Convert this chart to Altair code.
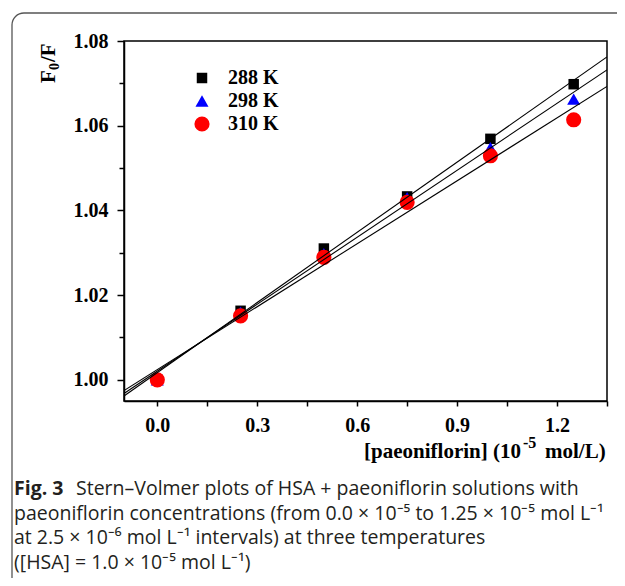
import altair as alt
import pandas as pd

# ---- data ----
conc = [0.0, 0.25, 0.5, 0.75, 1.0, 1.25]
f288 = [1.000, 1.0163, 1.0310, 1.0433, 1.0569, 1.0698]
f298 = [1.000, 1.0160, 1.0298, 1.0430, 1.0548, 1.0663]
f310 = [1.000, 1.0151, 1.0289, 1.0419, 1.0529, 1.0614]
temps = ["288 K", "298 K", "310 K"]
colors = ["black", "blue", "red"]
shapes = ["square", "triangle-up", "circle"]
sizes = [110, 230, 125]

x_ticks = [-0.15, 0.0, 0.15, 0.3, 0.45, 0.6, 0.75, 0.9, 1.05, 1.2, 1.35]
y_ticks = [1.00, 1.01, 1.02, 1.03, 1.04, 1.05, 1.06, 1.07, 1.08]

caption_first = "Stern\u2013Volmer plots of HSA + paeoniflorin solutions with"
caption_lines = [
    "paeoniflorin concentrations (from 0.0 \u00d7 10\u207b\u2075 to 1.25 \u00d7 10\u207b\u2075 mol L\u207b\u00b9",
    "at 2.5 \u00d7 10\u207b\u2076 mol L\u207b\u00b9 intervals) at three temperatures",
    "([HSA] = 1.0 \u00d7 10\u207b\u2075 mol L\u207b\u00b9)",
]

rows = []
for t, vals in zip(temps, [f288, f298, f310]):
    for c, v in zip(conc, vals):
        rows.append({"conc": c, "F": v, "T": t})
df = pd.DataFrame(rows)

# layout (plot area in page pixels: x 124..607, y 41..401)
W, H = 483, 360
PL, PT = 116, 33
TOTAL_W, TOTAL_H = 609, 570
ox, oy = 124, 41  # page coords of plot origin

SERIF = "Liberation Serif"
SANS = "Open Sans"

xscale = alt.Scale(domain=[-0.1, 1.35], nice=False, zero=False)
yscale = alt.Scale(domain=[0.995, 1.08], nice=False, zero=False)

x_major_test = "abs(round(datum.value/0.3)*0.3 - datum.value) < 1e-6"
y_major_test = "abs(round(datum.value/0.02)*0.02 - datum.value) < 1e-6"

xaxis = alt.Axis(
    values=x_ticks, title=None,
    labelExpr=x_major_test + " ? format(datum.value, '.1f') : ''",
    labelFont=SERIF, labelFontWeight="bold", labelFontSize=20, labelColor="black",
    labelPadding=9, tickSize=5, tickWidth=1.5, tickColor="black",
    domainColor="black", domainWidth=1.5, grid=False, labelFlush=False, labelOverlap=False,
)
yaxis = alt.Axis(
    values=y_ticks, title=None,
    labelExpr=y_major_test + " ? format(datum.value, '.2f') : ''",
    labelFont=SERIF, labelFontWeight="bold", labelFontSize=20, labelColor="black",
    labelPadding=9,
    tickSize={"condition": {"test": y_major_test, "value": 7}, "value": 5},
    tickWidth=1.5, tickColor="black",
    domainColor="black", domainWidth=1.5, grid=False, labelFlush=False, labelOverlap=False,
)

x = alt.X("conc:Q", scale=xscale, axis=xaxis)
y = alt.Y("F:Q", scale=yscale, axis=yaxis)

legend = alt.Legend(
    title=None, orient="none", legendX=68, legendY=27,
    labelFont=SERIF, labelFontWeight="bold", labelFontSize=20,
    labelColor="black", rowPadding=3, labelOffset=16, symbolStrokeWidth=0)

points = alt.Chart(df).mark_point(filled=True, opacity=1).encode(
    x=x, y=y,
    color=alt.Color("T:N", scale=alt.Scale(domain=temps, range=colors), legend=legend),
    shape=alt.Shape("T:N", scale=alt.Scale(domain=temps, range=shapes), legend=legend),
    size=alt.Size("T:N", scale=alt.Scale(domain=temps, range=sizes), legend=legend),
    order=alt.Order("T:N"),
)

lines = alt.Chart(df).transform_regression(
    "conc", "F", groupby=["T"], extent=[-0.1, 1.35]
).mark_line(color="black", strokeWidth=1.1, clip=True).encode(
    x=x, y=y, detail="T:N"
)

one = pd.DataFrame({"a": [0]})


def txt(text, px, py, size=20, font=SERIF, weight="bold", align="left",
        baseline="alphabetic", angle=0, color="black"):
    kw = dict(text=text, font=font, fontSize=size, fontWeight=weight,
              align=align, baseline=baseline, color=color)
    if angle:
        kw["angle"] = angle
    return alt.Chart(one).mark_text(**kw).encode(
        x=alt.value(px - ox), y=alt.value(py - oy))


CAP = 19.5
texts = [
    # x title
    txt("[paeoniflorin] (10", 521, 458, size=21, align="right"),
    txt("-5", 523, 448, size=16),
    txt("mol/L)", 545, 458, size=21),
    # y title
    txt("F", 55, 83, size=21, angle=270),
    txt("0", 59, 70, size=14, angle=270),
    txt("/F", 55, 62, size=21, angle=270),
    # caption
    txt("Fig. 3", 14, 495, size=CAP, font=SANS, weight="bold", color="#231f20"),
    txt(caption_first, 76, 495, size=CAP, font=SANS, weight="normal", color="#231f20"),
]
for i, line in enumerate(caption_lines):
    texts.append(txt(line, 14, 519.7 + 24.7 * i, size=CAP, font=SANS,
                     weight="normal", color="#231f20"))

# rounded figure border (top and left edges)
FR = "#555555"
border_top = alt.Chart(one).mark_rule(color=FR, strokeWidth=1.3).encode(
    x=alt.value(24 - ox), x2=alt.value(700 - ox), y=alt.value(13 - oy))
border_left = alt.Chart(one).mark_rule(color=FR, strokeWidth=1.3).encode(
    x=alt.value(12 - ox), y=alt.value(25 - oy), y2=alt.value(700 - oy))
border_corner = alt.Chart(one).mark_arc(
    radius=12.65, radius2=11.35, theta=4.7124, theta2=6.2832, color=FR
).encode(x=alt.value(24 - ox), y=alt.value(25 - oy))

chart = alt.layer(border_top, border_left, border_corner, points, lines, *texts).properties(
    width=W, height=H,
    autosize=alt.AutoSizeParams(type="none"),
    padding={"left": PL, "top": PT, "right": TOTAL_W - PL - W, "bottom": TOTAL_H - PT - H},
).configure_view(stroke="black", strokeWidth=1.5)

chart.save("out.html", embed_options={"renderer": "svg", "actions": False})
